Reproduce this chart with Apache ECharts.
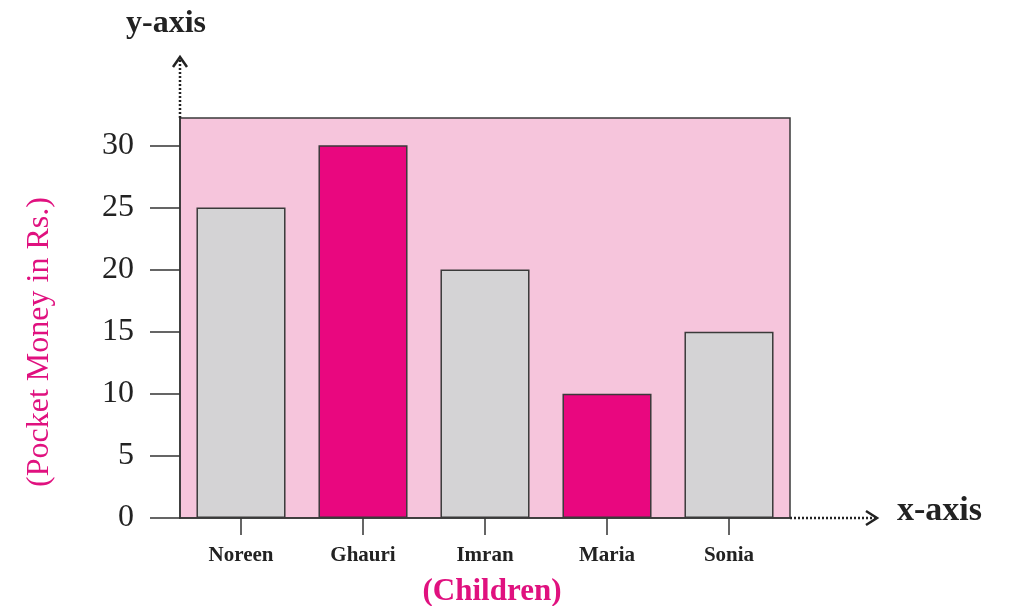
<!DOCTYPE html>
<html>
<head>
<meta charset="utf-8">
<title>Pocket Money</title>
<script src="https://cdn.jsdelivr.net/npm/echarts@6/dist/echarts.min.js"></script>
<style>
  html, body { margin: 0; padding: 0; background: #fff; }
  #chart { width: 1010px; height: 606px; }
</style>
</head>
<body>
<div id="chart"></div>
<script>
// data
const children = ['Noreen', 'Ghauri', 'Imran', 'Maria', 'Sonia']
const pocketMoney = [25, 30, 20, 10, 15]
const yTicks = [0, 5, 10, 15, 20, 25, 30]

const grey = '#d4d3d5'
const magenta = '#e9077f'
const barColors = [grey, magenta, grey, magenta, grey]
const serif = "'Liberation Serif', 'DejaVu Serif', serif"

// plot box in px
const gridLeft = 180, gridRight = 220, gridTop = 118, gridBottom = 88
const W = 1010, H = 606
const axisY = H - gridBottom, boxRight = W - gridRight

const chart = echarts.init(document.getElementById('chart'))
chart.setOption({
  animation: false,
  backgroundColor: '#fff',
  grid: {
    left: gridLeft, right: gridRight, top: gridTop, bottom: gridBottom,
    containLabel: false,
    outerBoundsMode: 'none',
    show: true,
    backgroundColor: '#f6c5dc',
    borderColor: '#3a3a3a',
    borderWidth: 1.5
  },
  xAxis: {
    type: 'category',
    data: children,
    name: '(Children)',
    nameLocation: 'middle',
    nameGap: 58,
    nameTextStyle: { color: '#e0117f', fontFamily: serif, fontSize: 31, fontWeight: 'bold', padding: [0, 0, 0, 14] },
    axisLine: { lineStyle: { color: '#333', width: 1.5 } },
    axisTick: { show: true, alignWithLabel: true, length: 17, lineStyle: { color: '#333', width: 1.5 } },
    axisLabel: { color: '#222', fontFamily: serif, fontSize: 21, fontWeight: 'bold', margin: 27 },
    splitLine: { show: false }
  },
  yAxis: {
    type: 'value',
    min: 0,
    max: 32.2,
    interval: 5,
    name: '(Pocket Money in Rs.)',
    nameLocation: 'middle',
    nameRotate: 90,
    nameGap: 124,
    nameTextStyle: { color: '#e0117f', fontFamily: serif, fontSize: 32, padding: [0, 48, 0, 0] },
    axisLine: { show: true, lineStyle: { color: '#333', width: 1.5 } },
    axisTick: { show: true, length: 30, customValues: yTicks, lineStyle: { color: '#333', width: 1.5 } },
    axisLabel: { color: '#222', fontFamily: serif, fontSize: 32, margin: 46, customValues: yTicks },
    splitLine: { show: false }
  },
  series: [{
    type: 'bar',
    barWidth: '73%',
    data: pocketMoney.map((v, i) => ({
      value: v,
      itemStyle: { color: barColors[i] }
    })),
    itemStyle: { borderColor: '#3a3a3a', borderWidth: 1.5 }
  }],
  graphic: [
    // dotted y arrow
    { type: 'line', shape: { x1: gridLeft, y1: gridTop, x2: gridLeft, y2: 58 },
      style: { stroke: '#222', lineWidth: 2.5, lineDash: [2, 2] } },
    { type: 'polyline', shape: { points: [[gridLeft - 7, 67], [gridLeft, 57], [gridLeft + 7, 67]] },
      style: { stroke: '#222', lineWidth: 2.5, fill: null } },
    { type: 'text', left: 126, top: 8,
      style: { text: 'y-axis', font: 'bold 32px ' + serif, fill: '#222' } },
    // dotted x arrow
    { type: 'line', shape: { x1: boxRight, y1: axisY, x2: 876, y2: axisY },
      style: { stroke: '#222', lineWidth: 2.5, lineDash: [2, 2] } },
    { type: 'polyline', shape: { points: [[866, axisY - 7], [877, axisY], [866, axisY + 7]] },
      style: { stroke: '#222', lineWidth: 2.5, fill: null } },
    { type: 'text', left: 897, top: 494,
      style: { text: 'x-axis', font: 'bold 34px ' + serif, fill: '#222' } }
  ]
})
</script>
</body>
</html>
